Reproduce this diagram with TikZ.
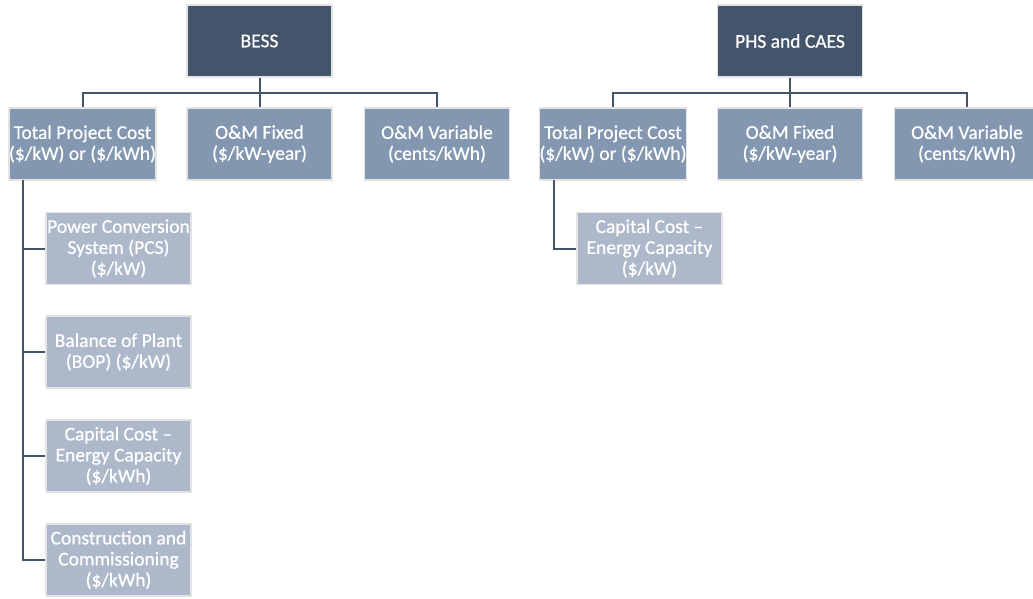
\documentclass[tikz,border=0pt]{standalone}
\usepackage{fontspec}
\setmainfont{Carlito}[RawFeature={embolden=0.6}]
\definecolor{dk}{HTML}{44546A}
\definecolor{md}{HTML}{8497B0}
\definecolor{lt}{HTML}{ADB9CA}
\definecolor{bd}{HTML}{E3E3E3}
\begin{document}
\begin{tikzpicture}[x=1pt,y=-1pt,
  box/.style={draw=bd,line width=1.5pt,text=white,align=center,inner sep=0pt,
    font=\fontsize{19.5}{21}\selectfont,minimum width=145pt,minimum height=72pt},
  top/.style={box,fill=dk},
  mid/.style={box,fill=md},
  low/.style={box,fill=lt},
  conn/.style={draw=dk,line width=2pt}]
\useasboundingbox (0,0) rectangle (1033,599);
% left tree
\node[top] (bess) at (259.5,41) {BESS};
\node[mid] (b1) at (82.5,144) {Total Project Cost\\(\$/kW) or (\$/kWh)};
\node[mid] (b2) at (259.5,144) {O\&M Fixed\\(\$/kW-year)};
\node[mid] (b3) at (437,144) {O\&M Variable\\(cents/kWh)};
\node[low] (s1) at (118.5,248.5) {Power Conversion\\System (PCS)\\(\$/kW)};
\node[low] (s2) at (118.5,352) {Balance of Plant\\(BOP) (\$/kW)};
\node[low] (s3) at (118.5,456) {Capital Cost --\\Energy Capacity\\(\$/kWh)};
\node[low] (s4) at (118.5,560) {Construction and\\Commissioning\\(\$/kWh)};
\coordinate (bj) at (259.5,93);
\draw[conn] (bess.south) -- (bj);
\draw[conn] (b1.north) |- (bj) -| (b3.north);
\draw[conn] (bj) -- (b2.north);
\coordinate (bv) at (23,180);
\draw[conn] (bv) |- (s4.west);
\draw[conn] (bv |- s1.west) -- (s1.west);
\draw[conn] (bv |- s2.west) -- (s2.west);
\draw[conn] (bv |- s3.west) -- (s3.west);
% right tree
\node[top] (phs) at (790,41) {PHS and CAES};
\node[mid] (p1) at (613,144) {Total Project Cost\\(\$/kW) or (\$/kWh)};
\node[mid] (p2) at (790,144) {O\&M Fixed\\(\$/kW-year)};
\node[mid] (p3) at (967,144) {O\&M Variable\\(cents/kWh)};
\node[low] (q1) at (649.5,248.5) {Capital Cost --\\Energy Capacity\\(\$/kW)};
\coordinate (pj) at (790,93);
\draw[conn] (phs.south) -- (pj);
\draw[conn] (p1.north) |- (pj) -| (p3.north);
\draw[conn] (pj) -- (p2.north);
\coordinate (pv) at (554,180);
\draw[conn] (pv) |- (q1.west);
\end{tikzpicture}
\end{document}
